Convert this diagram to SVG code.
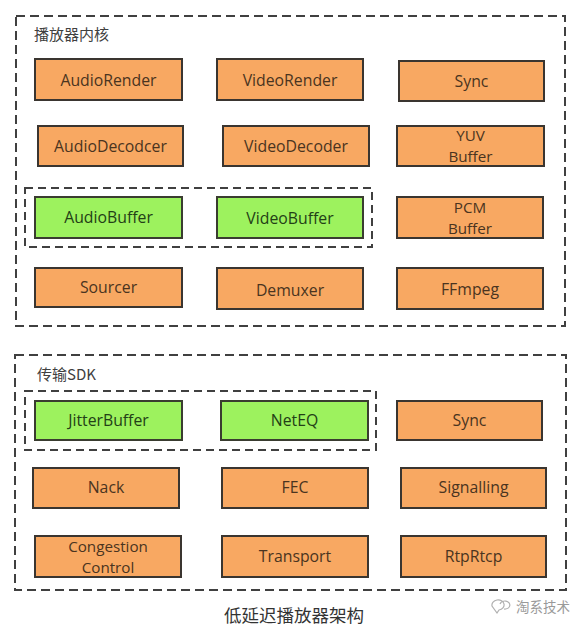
<svg xmlns="http://www.w3.org/2000/svg" width="588" height="625" viewBox="0 0 588 625">
<style>
.bg{fill:#ffffff}
.outer{fill:none;stroke:#404040;stroke-width:2;stroke-dasharray:9 5}
.inner{fill:none;stroke:#404040;stroke-width:2;stroke-dasharray:8 5}
.o{fill:#F8A862;stroke:#3a3530;stroke-width:2}
.g{fill:#9DF25E;stroke:#3a3d30;stroke-width:2}
text{font-family:"Open Sans","Noto Sans","Noto Sans CJK SC",sans-serif;font-size:15.8px;text-anchor:middle;dominant-baseline:central}
text.two{font-size:15.2px}
.ot{fill:#4a3420}
.gt{fill:#234016}
.title{font-family:"Noto Sans CJK SC",sans-serif;font-size:15px;fill:#404040;text-anchor:start}
.cap{font-family:"Noto Sans CJK SC",sans-serif;font-size:17.5px;fill:#333333}
.wm{font-family:"Noto Sans CJK SC",sans-serif;font-size:13.5px;fill:#9a9a9a;text-anchor:start}
</style>
<rect class="bg" x="0" y="0" width="588" height="625"/>
<g id="connectors"></g>
<g id="core">
<rect class="outer" x="16" y="16" width="549" height="310"/>
<text class="title" x="34" y="33">播放器内核</text>
<rect class="inner" x="25" y="188" width="347" height="59"/>
</g>
<g id="AudioRender"><rect class="o" x="35" y="59" width="147" height="41"/><text class="ot" x="108.5" y="79.5">AudioRender</text></g>
<g id="VideoRender"><rect class="o" x="217" y="59" width="146" height="41"/><text class="ot" x="290" y="79.5">VideoRender</text></g>
<g id="Sync1"><rect class="o" x="399" y="61" width="145" height="40"/><text class="ot" x="471.5" y="80.5">Sync</text></g>
<g id="AudioDecodcer"><rect class="o" x="38" y="126" width="145" height="40"/><text class="ot" x="110.5" y="145.5">AudioDecodcer</text></g>
<g id="VideoDecoder"><rect class="o" x="223" y="126" width="146" height="40"/><text class="ot" x="296" y="145.5">VideoDecoder</text></g>
<g id="YUVBuffer"><rect class="o" x="397" y="126" width="147" height="40"/><text class="ot two" x="470.5" y="135.3">YUV</text><text class="ot two" x="470.5" y="156.2">Buffer</text></g>
<g id="AudioBuffer"><rect class="g" x="35" y="197" width="147" height="41"/><text class="gt" x="108.5" y="216.5">AudioBuffer</text></g>
<g id="VideoBuffer"><rect class="g" x="217" y="197" width="146" height="41"/><text class="gt" x="290" y="217.5">VideoBuffer</text></g>
<g id="PCMBuffer"><rect class="o" x="397" y="197" width="146" height="41"/><text class="ot two" x="470" y="207.2">PCM</text><text class="ot two" x="470" y="228.1">Buffer</text></g>
<g id="Sourcer"><rect class="o" x="35" y="268" width="147" height="39"/><text class="ot" x="108.5" y="286.5">Sourcer</text></g>
<g id="Demuxer"><rect class="o" x="217" y="268" width="146" height="41"/><text class="ot" x="290" y="289.5">Demuxer</text></g>
<g id="FFmpeg"><rect class="o" x="397" y="268" width="146" height="41"/><text class="ot" x="470" y="288.5">FFmpeg</text></g>
<g id="sdk">
<rect class="outer" x="15" y="355" width="551" height="235"/>
<text class="title" x="37" y="373">传输SDK</text>
<rect class="inner" x="25" y="391" width="351" height="59"/>
</g>
<g id="JitterBuffer"><rect class="g" x="35" y="401" width="147" height="39"/><text class="gt" x="108.5" y="420">JitterBuffer</text></g>
<g id="NetEQ"><rect class="g" x="221" y="401" width="147" height="39"/><text class="gt" x="294.5" y="420">NetEQ</text></g>
<g id="Sync2"><rect class="o" x="397" y="401" width="145" height="39"/><text class="ot" x="469.5" y="420">Sync</text></g>
<g id="Nack"><rect class="o" x="33" y="468" width="146" height="40"/><text class="ot" x="106" y="487">Nack</text></g>
<g id="FEC"><rect class="o" x="222" y="468" width="146" height="40"/><text class="ot" x="295" y="487">FEC</text></g>
<g id="Signalling"><rect class="o" x="401" y="468" width="145" height="40"/><text class="ot" x="473.5" y="487">Signalling</text></g>
<g id="CongestionControl"><rect class="o" x="35" y="536" width="146" height="41"/><text class="ot two" x="108" y="546.2">Congestion</text><text class="ot two" x="108" y="567.1">Control</text></g>
<g id="Transport"><rect class="o" x="222" y="536" width="146" height="41"/><text class="ot" x="295" y="555.5">Transport</text></g>
<g id="RtpRtcp"><rect class="o" x="401" y="536" width="145" height="41"/><text class="ot" x="473.5" y="555.5">RtpRtcp</text></g>
<text class="cap" x="294" y="614">低延迟播放器架构</text>
<path d="M492 606 a6 5 0 1 1 7 4 l-2 3 z M500 604 a5 4 0 1 1 4 5" fill="none" stroke="#b0b0b0" stroke-width="1.2"/>
<text class="wm" x="516" y="606">淘系技术</text>
</svg>
